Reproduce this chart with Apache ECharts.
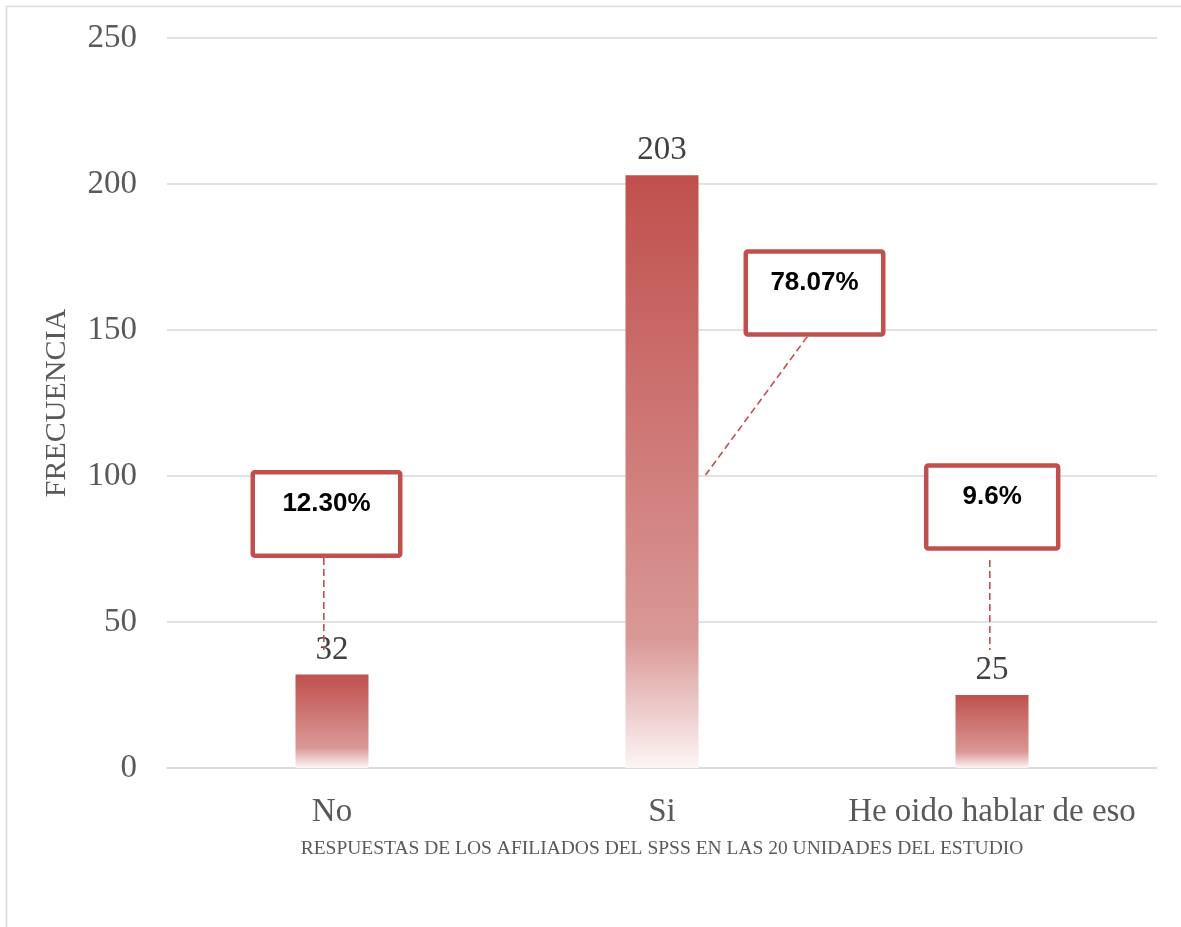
<!DOCTYPE html>
<html>
<head>
<meta charset="utf-8">
<script src="https://cdn.jsdelivr.net/npm/echarts@6/dist/echarts.min.js"></script>
<style>
html,body{margin:0;padding:0;background:#fff;}
#chart{width:1181px;height:927px;}
</style>
</head>
<body>
<div id="chart"></div>
<script>
// ---- data ----
const categories = ['No', 'Si', 'He oido hablar de eso'];
const frequencies = [32, 203, 25];
const percentLabels = ['12.30%', '78.07%', '9.6%'];
const yTicks = [0, 50, 100, 150, 200, 250];
const xAxisTitle = 'RESPUESTAS DE LOS AFILIADOS DEL SPSS EN LAS 20 UNIDADES DEL ESTUDIO';
const yAxisTitle = 'FRECUENCIA';

// ---- callout layout (pixel offsets relative to bar top) ----
const calloutLayout = [
  {dx: -5.5, dy: -160.6, w: 147.5, h: 83.5, lx1: -8.2, ly1: -116.6, lx2: -8.2, ly2: -24.6},
  {dx: 152.5, dy: 117.8, w: 137.5, h: 83, lx1: 145.2, ly1: 161.5, lx2: 43.5, ly2: 299.8},
  {dx: 0.2, dy: -188, w: 132, h: 83, lx1: -2.2, ly1: -135, lx2: -2.2, ly2: -45}
];

const RED = '#c0504d';
const serif = '"Liberation Serif", "DejaVu Serif", serif';

const chart = echarts.init(document.getElementById('chart'), null, {renderer: 'canvas'});

const option = {
  backgroundColor: '#fff',
  animation: false,
  graphic: [{
    type: 'rect',
    shape: {x: 6.5, y: 6.5, width: 1300, height: 1100},
    style: {fill: 'none', stroke: '#d9d9d9', lineWidth: 1.5},
    silent: true,
    z: -10
  }],
  grid: {left: 167, right: 24, top: 38, bottom: 159},
  xAxis: {
    type: 'category',
    data: categories,
    axisTick: {show: false},
    axisLine: {show: true, lineStyle: {color: '#d9d9d9', width: 1.5}},
    axisLabel: {color: '#595959', fontFamily: serif, fontSize: 33, margin: 28, interval: 0, hideOverlap: false},
    name: xAxisTitle,
    nameLocation: 'middle',
    nameGap: 71,
    nameTextStyle: {color: '#595959', fontFamily: serif, fontSize: 19.5}
  },
  yAxis: {
    type: 'value',
    min: yTicks[0],
    max: yTicks[yTicks.length - 1],
    interval: yTicks[1] - yTicks[0],
    axisLine: {show: false},
    axisTick: {show: false},
    splitLine: {lineStyle: {color: '#d9d9d9', width: 1.5}},
    axisLabel: {color: '#595959', fontFamily: serif, fontSize: 33, margin: 30},
    name: yAxisTitle,
    nameLocation: 'middle',
    nameGap: 95,
    nameRotate: 90,
    nameTextStyle: {color: '#595959', fontFamily: serif, fontSize: 30}
  },
  series: [
    {
      type: 'bar',
      data: frequencies,
      barWidth: 73,
      itemStyle: {
        color: new echarts.graphic.LinearGradient(0, 0, 0, 1, [
          {offset: 0, color: '#c0504d'},
          {offset: 0.78, color: '#d99896'},
          {offset: 1, color: '#fdf5f5'}
        ])
      },
      label: {
        show: true,
        position: 'top',
        distance: 8,
        color: '#404040',
        fontFamily: serif,
        fontSize: 33
      },
      z: 2
    },
    {
      type: 'custom',
      data: frequencies.map((v, i) => [i, v]),
      encode: {x: 0, y: 1},
      clip: false,
      z: 5,
      silent: true,
      renderItem: function (params, api) {
        const i = params.dataIndex;
        const p = api.coord([api.value(0), api.value(1)]);
        const c = calloutLayout[i];
        const cx = p[0] + c.dx, cy = p[1] + c.dy;
        return {
          type: 'group',
          children: [
            {
              type: 'line',
              shape: {x1: p[0] + c.lx1, y1: p[1] + c.ly1, x2: p[0] + c.lx2, y2: p[1] + c.ly2},
              style: {stroke: RED, lineWidth: 1.6, lineDash: [7, 4]}
            },
            {
              type: 'rect',
              shape: {x: cx - c.w / 2, y: cy - c.h / 2, width: c.w, height: c.h, r: 2},
              style: {fill: '#fff', stroke: RED, lineWidth: 4.5}
            },
            {
              type: 'text',
              style: {
                x: cx, y: cy - 10,
                text: percentLabels[i],
                align: 'center',
                verticalAlign: 'middle',
                font: 'bold 26px "Liberation Sans", Arial, sans-serif',
                fill: '#000'
              }
            }
          ]
        };
      }
    }
  ]
};
chart.setOption(option);
</script>
</body>
</html>
